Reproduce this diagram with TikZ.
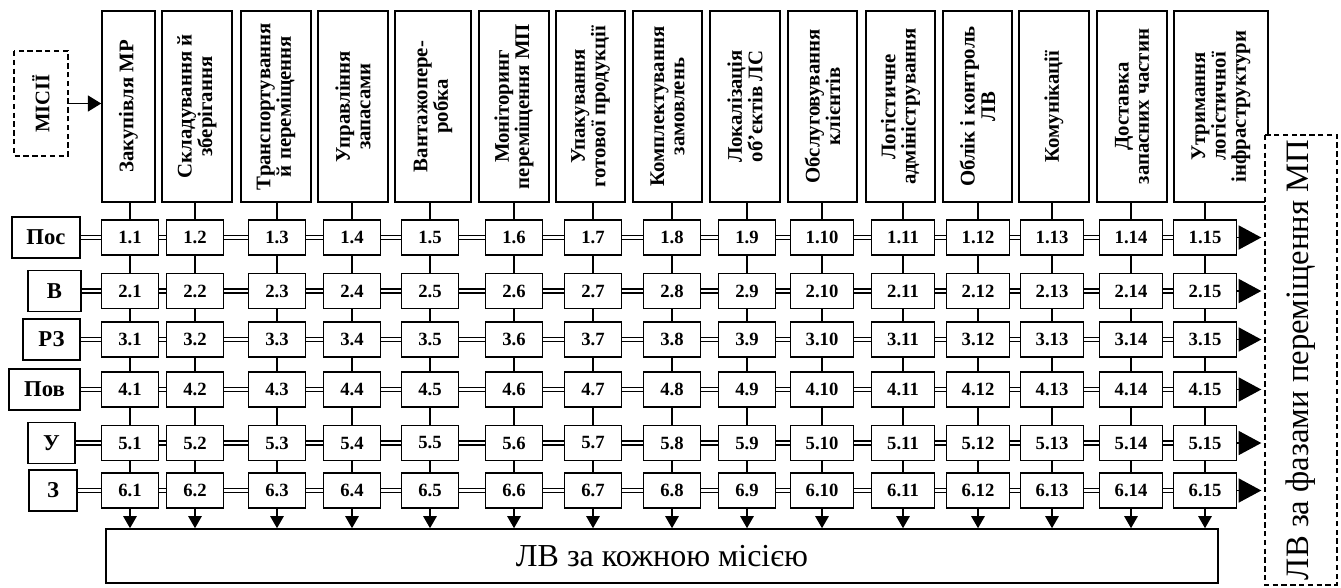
\documentclass[tikz,border=0pt]{standalone}
\usepackage{fontspec}
\setmainfont{Liberation Serif}
\usetikzlibrary{arrows.meta,positioning}
\begin{document}
\begin{tikzpicture}[x=0.75pt,y=-0.75pt,line width=1.2pt,>={Triangle[length=9pt,width=10pt]}]
\tikzset{head/.style={draw,rotate=90,minimum width=191*0.75pt,align=center,inner sep=1pt,font=\bfseries\fontsize{15.6}{15.3}\selectfont},
 cell/.style={draw,minimum height=35*0.75pt,inner sep=0pt,font=\bfseries\fontsize{14}{14}\selectfont},
 phase/.style={draw,minimum height=41*0.75pt,inner sep=0pt,font=\bfseries\fontsize{17}{17}\selectfont},
 dbl/.style={double,double distance=1.6pt},
 endtri/.style={-{Triangle[length=17pt,width=18pt]}},
 dash box/.style={draw,dash pattern=on 4pt off 2.6pt,fill=white}}
\useasboundingbox (0,0) rectangle (1341,587);
% mission headers
\foreach \x/\w/\t [count=\k] in {128.5/53/{Закупівля МР},197/70/{Складування й\\зберігання},276/70/{Транспортування\\й переміщення},353/70/{Управління\\запасами},433/76/{Вантажопере-\\робка},514/70/{Моніторинг\\переміщення МП},590.5/69/{Упакування\\готової продукції},667.5/69/{Комплектування\\замовлень},745/70/{Локалізація\\об’єктів ЛС},822.5/69/{Обслуговування\\клієнтів},900.5/69/{Логістичне\\адміністрування},977.5/69/{Облік і контроль\\ЛВ},1054/70/{Комунікації},1132/70/{Доставка\\запасних частин},1221/94/{Утримання\\логістичної\\інфраструктури}}
  \node[head,minimum height=\w*0.75pt] (h\k) at (\x,106.5) {\t};
% phase labels
\foreach \x/\w/\y/\t [count=\r] in {46/68/237.5/Пос,54.5/53/291/В,51.5/57/339.5/РЗ,44.5/71/389.5/Пов,51.5/47/443/У,53/48/490.5/З}
  \node[phase,minimum width=\w*0.75pt] (l\r) at (\x,\y) {\t};
% matrix of cells
\foreach \x/\w [count=\k] in {130/57,195/57,277/57,352/57,430/57,514/57,593/57,672/57,747/57,822/63,903/63,978/63,1052/63,1131/63,1205/63}
  \foreach \y [count=\r] in {237.5,291,339.5,389.5,443,490.5}
    \node[cell,minimum width=\w*0.75pt] (c\r-\k) at (\x,\y) {\r.\k};
\node[draw,minimum width=1112*0.75pt,minimum height=54*0.75pt,font=\fontsize{24}{24}\selectfont] (lv) at (662,556) {ЛВ за кожною місією};
\node[dash box,rotate=90,minimum width=450*0.75pt,minimum height=72*0.75pt,line width=1pt,font=\fontsize{24.5}{24.5}\selectfont] (ph) at (1301,360) {ЛВ за фазами переміщення МП};
\node[dash box,rotate=90,minimum width=105*0.75pt,minimum height=54*0.75pt,font=\bfseries\fontsize{15.5}{15.5}\selectfont] (mis) at (41,103.5) {МІСІЇ};
\draw[-{Triangle[length=10pt,width=12pt]}] (mis.south) -- (mis.south -| h1.north);
% connectors
\foreach \k in {1,...,15} {
  \draw (h\k.west -| c1-\k.north) -- (c1-\k.north);
  \foreach \r/\s in {1/2,2/3,3/4,4/5,5/6} \draw (c\r-\k.south) -- (c\s-\k.north);
  \draw[->] (c6-\k.south) -- (c6-\k.south |- lv.north);
}
\foreach \r in {1,...,6} {
  \draw[dbl] (l\r.east) -- (c\r-1.west);
  \foreach \k/\j in {1/2,2/3,3/4,4/5,5/6,6/7,7/8,8/9,9/10,10/11,11/12,12/13,13/14,14/15} \draw[dbl] (c\r-\k.east) -- (c\r-\j.west);
  \draw[endtri] (c\r-15.east) -- ++(24,0);
}
\end{tikzpicture}
\end{document}
